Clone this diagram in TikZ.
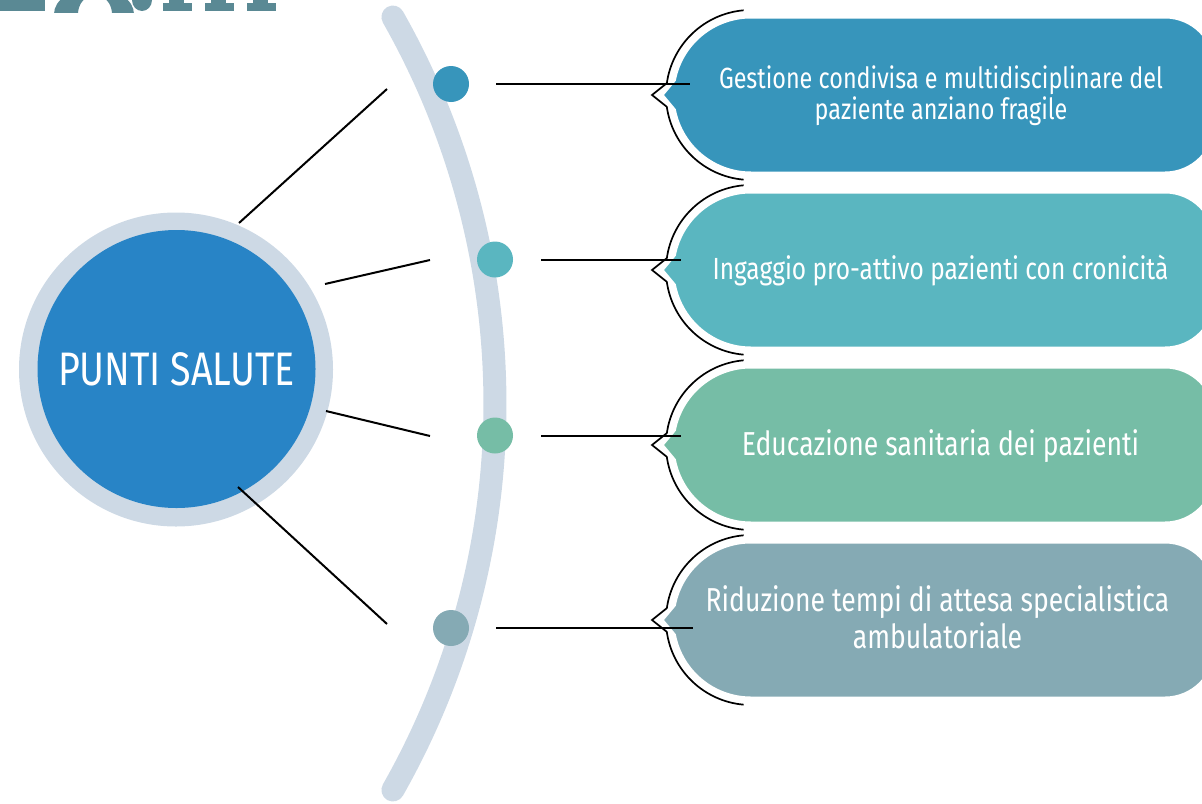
\documentclass[tikz,border=0pt]{standalone}
\usepackage{fontspec}
\newfontfamily\cond{Fira Sans}[FakeStretch=0.80]
\definecolor{ringc}{HTML}{CDD9E5}
\definecolor{hubc}{HTML}{2884C6}
\definecolor{c1}{HTML}{3795BB}
\definecolor{c2}{HTML}{5AB6C0}
\definecolor{c3}{HTML}{76BDA6}
\definecolor{c4}{HTML}{85AAB4}
\definecolor{titlec}{HTML}{5A8994}
\tikzset{
  dotnode/.style={circle, inner sep=0pt, minimum size=18pt},
  link/.style={black, line width=1pt},
  btext/.style={text=white, align=center, inner sep=0pt},
  outline/.style={black, line width=0.85pt},
}
\newcommand\mybubble[2]{%
  \pgfmathsetmacro\cy{-#1}
  \fill[#2, draw=white, line width=1.5pt]
    (751,\cy+78) -- (1165,\cy+78) arc[start angle=90,end angle=0,radius=25pt]
    -- (1215,\cy-28) arc[start angle=0,end angle=-90,radius=25pt]
    -- (751,\cy-78) arc[start angle=270,end angle=191,radius=39pt]
    -- (662,\cy) -- (674.4,\cy+14.9) arc[start angle=169,end angle=90,radius=39pt] -- cycle;
  \draw[outline]
    (743.6,\cy+84.7) arc[start angle=95,end angle=172,radius=42.5pt]
    -- (652,\cy) -- (666.8,\cy-11.8) arc[start angle=188,end angle=265,radius=42.5pt];
}
\begin{document}
\begin{tikzpicture}[x=0.5pt,y=0.5pt]
\useasboundingbox (0,0) rectangle (1202,-803);
\clip (0,0) rectangle (1202,-803);
% cut-off title fragment
\begin{scope}[titlec]
  \fill (0,0) rectangle (45,-11);
  \begin{scope}
    \clip (50,0) rectangle (160,-12.5);
    \fill[even odd rule] (94,-14) ellipse[x radius=20pt, y radius=13pt]
                         (95,-14) ellipse[x radius=8.5pt, y radius=9.5pt];
    \fill (142,0) ellipse[x radius=5pt, y radius=5.5pt];
  \end{scope}
  \fill (163,-3) rectangle (192,-11); \fill (169,0) rectangle (184,-3);
  \fill (205,-3) rectangle (234,-11); \fill (211,0) rectangle (226,-3);
  \fill (247,-3) rectangle (276,-11); \fill (253,0) rectangle (268,-3);
\end{scope}
% big arc
\draw[ringc, line width=11.5pt, line cap=round]
  (-288,-403.5) ++(29.58:391.5pt) arc[start angle=29.58, end angle=-29.58, radius=391.5pt];
% hub
\node[circle, fill=ringc, minimum size=157pt, inner sep=0pt] (ring) at (176,-369.5) {};
\node[circle, fill=hubc, minimum size=139pt, inner sep=0pt, text=white,
      font=\cond\fontsize{23.5}{27}\selectfont] (hub) at (176.5,-369) {PUNTI SALUTE};
% bubbles
\mybubble{95}{c1}
\mybubble{270}{c2}
\mybubble{445}{c3}
\mybubble{620}{c4}
\node[btext, font=\cond\fontsize{14.6}{15.5}\selectfont] (t1) at (941,-96)
  {Gestione condivisa e multidisciplinare del\\paziente anziano fragile};
\node[btext, font=\cond\fontsize{15.3}{17}\selectfont] (t2) at (940.5,-270)
  {Ingaggio pro-attivo pazienti con cronicità};
\node[btext, font=\cond\fontsize{16.6}{18.5}\selectfont] (t3) at (940.5,-446.5)
  {Educazione sanitaria dei pazienti};
\node[btext, font=\cond\fontsize{16.6}{18.5}\selectfont] (t4) at (937.5,-617.5)
  {Riduzione tempi di attesa specialistica\\ambulatoriale};
% dots
\node[dotnode, fill=c1] (d1) at (451,-84) {};
\node[dotnode, fill=c2] (d2) at (495,-259.5) {};
\node[dotnode, fill=c3] (d3) at (495,-435.5) {};
\node[dotnode, fill=c4] (d4) at (451,-628) {};
% connector end points
\coordinate (h1) at (239,-223);  \coordinate (a1) at (387,-89);
\coordinate (h2) at (325,-284);  \coordinate (a2) at (430,-260);
\coordinate (h3) at (326,-411);  \coordinate (a3) at (430,-436);
\coordinate (h4) at (238,-487);  \coordinate (a4) at (387,-624);
\coordinate (s1) at (496,-84);   \coordinate (e1) at (690,-84);
\coordinate (s2) at (541,-259.5);\coordinate (e2) at (681,-259.5);
\coordinate (s3) at (541,-435.5);\coordinate (e3) at (681,-435.5);
\coordinate (s4) at (496,-628);  \coordinate (e4) at (693,-628);
\draw[link] (h1) -- (a1);
\draw[link] (h2) -- (a2);
\draw[link] (h3) -- (a3);
\draw[link] (h4) -- (a4);
\draw[link] (s1) -- (e1);
\draw[link] (s2) -- (e2);
\draw[link] (s3) -- (e3);
\draw[link] (s4) -- (e4);
\end{tikzpicture}
\end{document}
